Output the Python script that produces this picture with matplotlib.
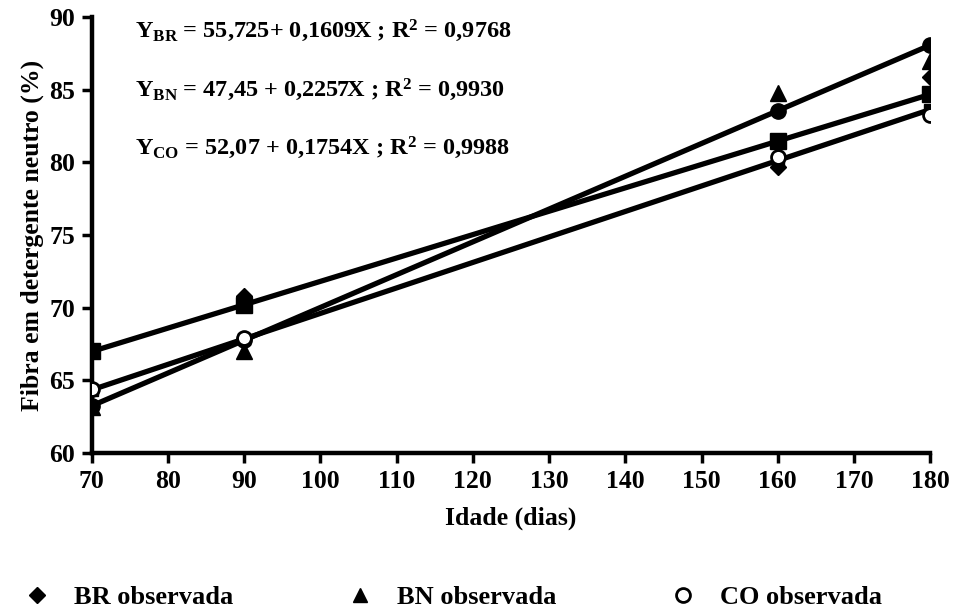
import numpy as np
import matplotlib.pyplot as plt
from matplotlib.lines import Line2D

plt.rcParams['font.family'] = ['Liberation Serif', 'DejaVu Serif']
plt.rcParams['font.weight'] = 'bold'
plt.rcParams['mathtext.fontset'] = 'custom'
plt.rcParams['mathtext.rm'] = 'Liberation Serif:bold'
plt.rcParams['mathtext.it'] = 'Liberation Serif:bold'
plt.rcParams['mathtext.bf'] = 'Liberation Serif:bold'

idade = [70, 90, 160, 180]

# valores observados
br_obs = [67.0, 70.8, 79.7, 85.9]
bn_obs = [63.2, 67.0, 84.8, 87.0]
co_obs = [64.4, 67.9, 80.4, 83.3]

# coeficientes das regressoes
br_a, br_b = 55.725, 0.1609
bn_a, bn_b = 47.45, 0.2257
co_a, co_b = 52.07, 0.1754

x = np.array(idade)
br_est = br_a + br_b * x
bn_est = bn_a + bn_b * x
co_est = co_a + co_b * x

fig = plt.figure(figsize=(9.56, 6.13), dpi=100)
ax = fig.add_axes([0.096, 0.261, 0.877, 0.711])

ax.plot(x, br_est, color='black', lw=3.8, marker='s', ms=11, zorder=3)
ax.plot(x, bn_est, color='black', lw=3.8, marker='o', ms=11, zorder=3)
ax.plot(x, co_est, color='black', lw=3.8, marker='s', ms=8, zorder=3)

ax.plot(x, br_obs, 'D', color='black', ms=8, ls='none', zorder=4)
ax.plot(x, bn_obs, '^', color='black', ms=11, ls='none', zorder=4)
ax.plot(x, co_obs, 'o', mfc='white', mec='black', mew=2, ms=10, ls='none', zorder=4)

ax.set_xlim(70, 180)
ax.set_ylim(60, 90)
ax.set_xticks(range(70, 181, 10))
ax.set_yticks(range(60, 91, 5))
ax.spines['top'].set_visible(False)
ax.spines['right'].set_visible(False)
ax.spines['left'].set_linewidth(3.2)
ax.spines['bottom'].set_linewidth(3.2)
ax.tick_params(axis='both', direction='out', length=7, width=2.5, labelsize=18.5, pad=5)
for lab in ax.get_xticklabels() + ax.get_yticklabels():
    lab.set_fontweight('bold')

ax.set_xlabel('Idade (dias)', fontsize=18.5, fontweight='bold', labelpad=10)
ax.set_ylabel('Fibra em detergente neutro (%)', fontsize=18.5, fontweight='bold', labelpad=4)

eqs = [
    r'$\mathrm{Y_{BR}}$ = 55,725+ 0,1609X ; R$^{\mathrm{2}}$ = 0,9768',
    r'$\mathrm{Y_{BN}}$ = 47,45 + 0,2257X ; R$^{\mathrm{2}}$ = 0,9930',
    r'$\mathrm{Y_{CO}}$ = 52,07 + 0,1754X ; R$^{\mathrm{2}}$ = 0,9988',
]
for i, eq in enumerate(eqs):
    fig.text(0.141, 0.950 - i * 0.096, eq, fontsize=17.5, fontweight='bold', va='center')

handles = [
    Line2D([], [], marker='D', color='black', ls='none', ms=8),
    Line2D([], [], marker='^', color='black', ls='none', ms=10),
    Line2D([], [], marker='o', mfc='white', mec='black', mew=2, ls='none', ms=10),
]
labels = ['BR observada', 'BN observada', 'CO observada']
fig.legend(handles, labels, loc='center left', bbox_to_anchor=(0.0, 0.025), ncol=3,
           frameon=False, prop={'size': 19, 'weight': 'bold'}, columnspacing=4.3,
           handletextpad=0.9, handlelength=1.0)

fig.savefig('out.png', dpi=100)
